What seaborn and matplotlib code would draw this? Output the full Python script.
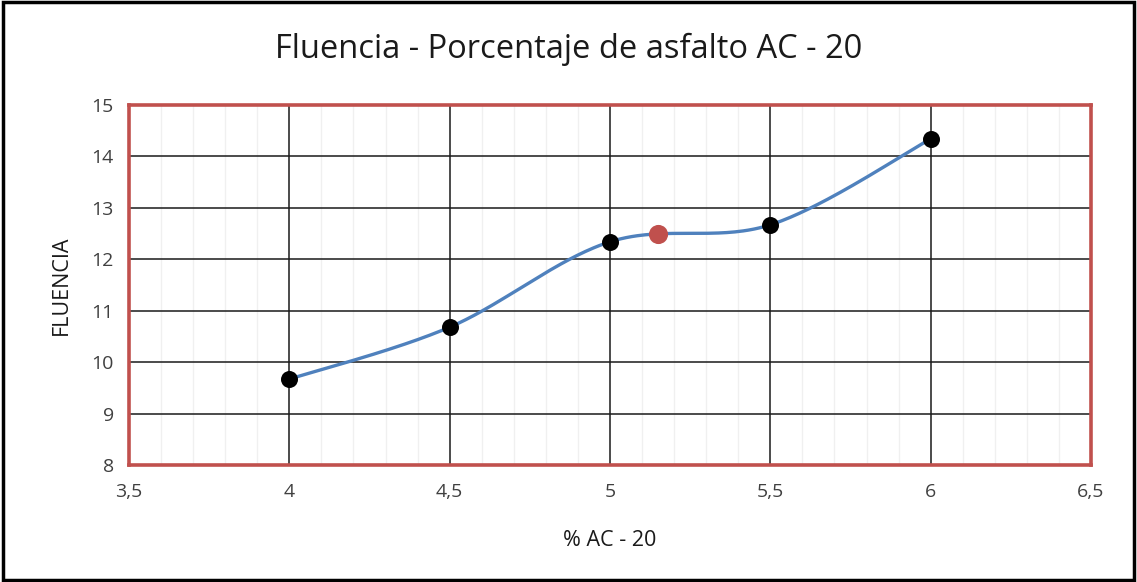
import numpy as np
import pandas as pd
import matplotlib
matplotlib.use("Agg")
import matplotlib.pyplot as plt
from matplotlib.ticker import MultipleLocator, FuncFormatter
from matplotlib.patches import Rectangle
import seaborn as sns

# Data
ac_pct = [4.0, 4.5, 5.0, 5.5, 6.0]
fluencia = [9.67, 10.68, 12.34, 12.67, 14.34]
opt_ac = [5.15]
opt_fluencia = [12.49]

title = "Fluencia - Porcentaje de asfalto AC - 20"
xlabel = "% AC - 20"
ylabel = "FLUENCIA"

sns.set_theme(style="white")
plt.rcParams['font.family'] = ['Open Sans', 'DejaVu Sans']


def excel_smooth(xs, ys, n=60):
    xs = np.asarray(xs, float)
    ys = np.asarray(ys, float)
    P = np.column_stack([xs, ys])
    out = []
    for i in range(len(P) - 1):
        p0 = P[i - 1] if i > 0 else P[i]
        p1 = P[i]
        p2 = P[i + 1]
        p3 = P[i + 2] if i + 2 < len(P) else P[i + 1]
        c1 = p1 + (p2 - p0) / 6.0
        c2 = p2 - (p3 - p1) / 6.0
        t = np.linspace(0, 1, n)[:, None]
        seg = ((1 - t) ** 3) * p1 + 3 * ((1 - t) ** 2) * t * c1 + 3 * (1 - t) * t ** 2 * c2 + t ** 3 * p2
        if i > 0:
            seg = seg[1:]
        out.append(seg)
    return np.vstack(out)


curve = excel_smooth(ac_pct, fluencia)
curve_df = pd.DataFrame({"x": curve[:, 0], "y": curve[:, 1]})
pts_df = pd.DataFrame({"x": ac_pct, "y": fluencia})
opt_df = pd.DataFrame({"x": opt_ac, "y": opt_fluencia})

fig = plt.figure(figsize=(11.37, 5.82), dpi=100)
ax = fig.add_axes([0.1135, 0.201, 0.846, 0.6186])

ax.set_xlim(3.5, 6.5)
ax.set_ylim(8, 15)
ax.xaxis.set_major_locator(MultipleLocator(0.5))
ax.xaxis.set_minor_locator(MultipleLocator(0.1))
ax.yaxis.set_major_locator(MultipleLocator(1))

ax.grid(which="minor", axis="x", color="#F0F0F0", linewidth=1.0)
ax.grid(which="major", axis="x", color="#1a1a1a", linewidth=1.1)
ax.grid(which="major", axis="y", color="#1a1a1a", linewidth=1.1)
ax.set_axisbelow(True)

sns.lineplot(data=curve_df, x="x", y="y", sort=False, ax=ax, color="#4F81BD",
             linewidth=2.4, zorder=3)
sns.scatterplot(data=pts_df, x="x", y="y", ax=ax, color="black", s=150,
                edgecolor="black", linewidth=0, zorder=4)
sns.scatterplot(data=opt_df, x="x", y="y", ax=ax, color="#C0504D", s=190,
                edgecolor="#C0504D", linewidth=0, zorder=5)

fmt = FuncFormatter(lambda v, p: ("%g" % v).replace(".", ","))
ax.xaxis.set_major_formatter(fmt)
ax.yaxis.set_major_formatter(fmt)
ax.tick_params(axis="both", which="both", length=0, labelsize=14, colors="#404040")
ax.tick_params(axis="x", pad=13)
ax.tick_params(axis="y", pad=11)

for s in ax.spines.values():
    s.set_color("#C0504D")
    s.set_linewidth(2.6)
    s.set_visible(True)

ax.set_xlabel(xlabel, fontsize=15.5, color="#1a1a1a", labelpad=21)
ax.set_ylabel(ylabel, fontsize=15.5, color="#1a1a1a", labelpad=14)
fig.text(0.5, 0.915, title, ha="center", va="center", fontsize=23.5, color="#1a1a1a")

fig.patches.append(Rectangle((0.003, 0.004), 0.994, 0.992, transform=fig.transFigure,
                             fill=False, edgecolor="black", linewidth=2.5))

fig.savefig("out.png", dpi=100)
